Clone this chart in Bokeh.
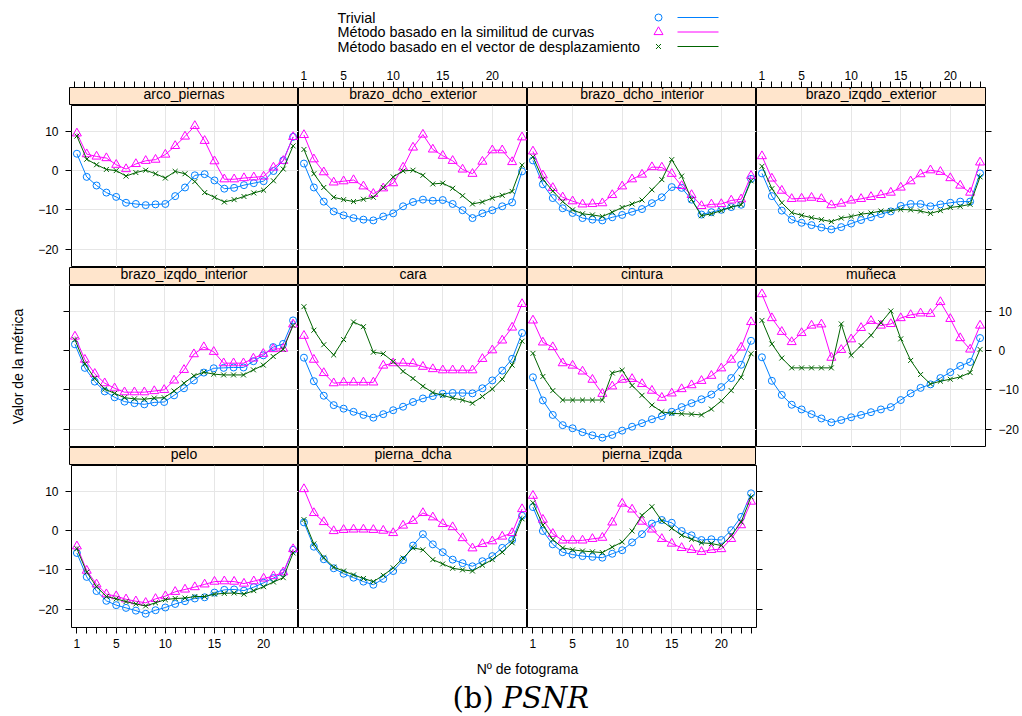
import math
from bokeh.plotting import figure
from bokeh.layouts import row, column
from bokeh.models import Range1d, LinearAxis, FixedTicker
from bokeh.embed import file_html
from bokeh.resources import INLINE
from bokeh.core.properties import value

# ---------------- data ----------------
frames = list(range(1, 24))
methods = ["Trivial",
           "Método basado en la similitud de curvas",
           "Método basado en el vector de desplazamiento"]
x_ticks = frames
x_tick_labels = {1: "1", 5: "5", 10: "10", 15: "15", 20: "20"}
y_ticks = [-20, -10, 0, 10]
y_tick_labels = {-20: "−20", -10: "−10", 0: "0", 10: "10"}

arco_piernas_triv = [4.3, -1.6, -3.8, -5.6, -6.7, -8.2, -8.5, -8.8, -8.6, -8.5, -6.5, -4.3, -1.2, -0.9, -2.5, -4.6, -4.4, -3.7, -3.2, -2.7, -0.1, 2.6, 8.6]
arco_piernas_sim = [9.5, 4.2, 3.6, 3.2, 1.5, 0.4, 1.7, 2.5, 2.8, 4.1, 6.3, 8.7, 11.4, 7.6, 2.4, -2.2, -2.2, -1.9, -1.7, -1.5, 0.8, 2.5, 8.6]
arco_piernas_vec = [8.8, 2.9, 1.5, 0.3, 0.0, -1.4, -0.5, 0.1, -0.8, -1.9, -0.2, -0.8, -2.8, -5.6, -6.8, -8.0, -7.4, -6.6, -5.7, -5.0, -2.6, 0.4, 6.3]

brazo_dcho_exterior_triv = [1.8, -4.3, -7.9, -10.4, -11.4, -12.1, -12.5, -12.7, -11.7, -10.9, -9.1, -8.0, -7.4, -7.7, -7.5, -8.5, -10.1, -12.1, -10.9, -10.1, -9.1, -8.1, -0.2]
brazo_dcho_exterior_sim = [9.1, 2.9, -0.4, -3.0, -2.7, -2.4, -4.0, -5.9, -4.5, -3.2, 0.8, 5.9, 9.2, 5.4, 3.8, 2.5, 0.3, -0.8, 2.3, 5.2, 5.2, 2.2, 8.5]
brazo_dcho_exterior_vec = [5.4, -0.8, -4.3, -6.8, -7.4, -7.9, -7.3, -6.8, -4.3, -1.6, -0.1, 0.1, -1.2, -3.4, -3.2, -4.5, -6.4, -8.5, -8.0, -7.0, -6.3, -5.3, 1.4]

brazo_dcho_interior_triv = [2.6, -3.5, -7.0, -9.6, -10.8, -12.1, -12.5, -12.7, -11.9, -11.3, -10.5, -9.8, -8.3, -6.8, -4.2, -4.4, -7.4, -11.2, -10.6, -10.0, -9.3, -8.7, -2.1]
brazo_dcho_interior_sim = [4.9, -1.2, -4.4, -6.8, -7.8, -8.6, -8.5, -8.3, -6.2, -4.0, -2.2, -1.0, 0.9, 0.8, -0.8, -3.9, -6.2, -9.0, -8.6, -8.5, -7.6, -7.3, -1.3]
brazo_dcho_interior_vec = [3.5, -2.2, -5.2, -7.9, -10.0, -11.0, -11.3, -11.7, -10.6, -9.4, -8.5, -7.5, -4.9, -2.3, 2.8, -1.4, -7.4, -11.5, -11.0, -10.2, -9.3, -8.7, -2.6]

brazo_izqdo_exterior_triv = [-0.7, -6.5, -10.2, -12.5, -13.3, -13.9, -14.5, -15.0, -14.4, -13.5, -12.6, -11.9, -11.1, -10.4, -9.0, -8.5, -8.5, -9.1, -8.6, -8.2, -7.9, -7.9, -0.7]
brazo_izqdo_exterior_sim = [3.7, -2.0, -5.1, -7.2, -7.1, -6.9, -7.2, -8.8, -8.4, -7.6, -7.2, -6.7, -6.2, -5.6, -4.3, -2.7, -0.9, 0.1, -0.3, -1.9, -3.8, -5.6, 2.1]
brazo_izqdo_exterior_vec = [1.1, -4.6, -8.2, -10.7, -11.4, -12.0, -12.5, -13.0, -12.1, -11.7, -11.1, -10.8, -10.3, -10.2, -9.9, -10.0, -10.3, -10.9, -10.2, -9.4, -9.1, -8.6, -1.6]

brazo_izqdo_interior_triv = [1.6, -4.4, -7.9, -10.4, -11.9, -13.0, -13.4, -13.7, -13.2, -13.1, -11.4, -9.6, -7.6, -5.6, -4.5, -4.4, -4.3, -4.3, -2.7, -1.2, 0.9, 1.7, 7.7]
brazo_izqdo_interior_sim = [3.6, -2.3, -5.9, -8.3, -9.6, -10.6, -10.6, -10.6, -10.3, -10.0, -7.6, -4.9, -0.9, 0.9, -0.3, -3.2, -3.2, -3.2, -2.0, -0.8, 0.4, 0.5, 6.7]
brazo_izqdo_interior_vec = [2.8, -3.4, -7.1, -9.8, -10.9, -12.0, -12.3, -12.4, -12.1, -12.0, -10.3, -8.3, -6.4, -5.5, -6.0, -6.2, -6.2, -6.2, -4.9, -3.7, -1.5, 0.3, 6.4]

cara_triv = [-1.8, -7.8, -11.5, -13.9, -14.8, -15.6, -16.4, -17.1, -16.2, -15.2, -14.3, -13.1, -12.2, -11.6, -11.0, -10.8, -10.8, -10.9, -9.6, -7.6, -5.1, -2.1, 4.5]
cara_sim = [3.8, -2.3, -5.7, -8.3, -8.1, -8.1, -8.1, -8.1, -3.8, -3.2, -3.2, -3.3, -4.1, -4.7, -5.0, -5.0, -5.0, -5.0, -2.1, 0.1, 2.6, 5.9, 11.9]
cara_vec = [11.2, 5.2, 1.5, -1.1, 2.8, 7.3, 6.1, -0.4, -0.8, -2.8, -5.3, -7.1, -9.1, -10.7, -11.4, -12.1, -12.6, -13.4, -11.7, -9.8, -7.3, -3.7, 2.4]

cintura_triv = [-6.8, -12.7, -16.4, -19.0, -19.8, -20.8, -21.6, -22.2, -21.5, -20.4, -19.4, -18.5, -17.5, -16.7, -15.6, -14.4, -13.4, -12.4, -11.2, -9.3, -7.0, -3.6, 2.5]
cintura_sim = [7.7, 2.1, 0.9, -3.2, -3.8, -5.3, -7.4, -11.0, -9.1, -7.4, -7.2, -8.5, -10.2, -12.0, -10.9, -9.8, -8.8, -7.7, -6.4, -4.5, -2.3, 0.8, 7.3]
cintura_vec = [-0.7, -6.6, -10.2, -12.6, -12.6, -12.6, -12.6, -12.6, -5.7, -5.0, -8.9, -11.4, -13.9, -15.6, -16.0, -16.1, -16.2, -16.4, -14.9, -12.8, -10.2, -6.8, -0.8]

muneca_triv = [-1.7, -7.7, -11.3, -13.8, -15.0, -16.2, -17.3, -18.3, -17.7, -17.0, -16.4, -15.7, -15.0, -14.4, -12.6, -10.9, -9.5, -8.6, -7.0, -5.5, -3.9, -2.9, 3.2]
muneca_sim = [14.4, 8.3, 4.8, 2.2, 4.5, 6.4, 6.7, -1.8, 0.2, 2.9, 5.8, 7.6, 6.4, 6.8, 8.3, 9.1, 9.5, 9.4, 12.4, 8.1, 3.2, 0.3, 6.4]
muneca_vec = [7.7, 1.7, -1.9, -4.4, -4.4, -4.4, -4.4, -4.4, 6.8, -1.2, 1.3, 3.9, 7.1, 10.1, 3.0, -2.5, -6.1, -8.5, -7.8, -7.3, -6.7, -5.6, 0.3]

pelo_triv = [-5.7, -11.8, -15.4, -17.9, -19.0, -19.7, -20.4, -21.2, -20.3, -19.6, -18.7, -18.0, -17.3, -17.0, -15.8, -15.1, -15.0, -15.3, -14.4, -13.3, -12.1, -10.8, -4.9]
pelo_sim = [-4.0, -10.2, -13.7, -16.2, -16.7, -17.5, -18.0, -18.4, -17.4, -16.7, -15.6, -15.0, -14.4, -13.7, -13.0, -12.9, -13.0, -13.5, -12.9, -12.2, -11.6, -10.6, -4.7]
pelo_vec = [-4.6, -10.6, -14.3, -16.8, -17.4, -18.1, -18.7, -19.2, -18.4, -17.6, -17.3, -17.2, -16.8, -16.8, -16.2, -16.0, -15.9, -16.2, -15.3, -14.3, -13.1, -12.0, -5.7]

pierna_dcha_triv = [2.1, -4.1, -7.3, -9.6, -11.0, -12.0, -13.0, -13.8, -12.3, -10.3, -7.5, -3.8, -0.9, -3.5, -5.5, -7.4, -8.3, -9.1, -7.8, -6.5, -4.4, -2.4, 3.8]
pierna_dcha_sim = [10.6, 4.5, 2.2, -0.1, 0.2, 0.3, 0.3, 0.2, 0.0, -0.6, 1.3, 2.5, 4.5, 3.4, 1.7, 0.9, -1.9, -4.5, -3.4, -2.7, -1.5, -0.6, 5.5]
pierna_dcha_vec = [2.8, -3.4, -6.9, -9.3, -10.3, -11.3, -12.2, -13.0, -11.4, -9.5, -7.0, -4.4, -4.9, -7.4, -8.5, -9.6, -10.0, -10.3, -8.8, -7.4, -5.5, -3.1, 3.0]

pierna_izqda_triv = [6.0, -0.1, -3.5, -5.5, -6.1, -6.5, -6.7, -6.9, -5.9, -5.0, -3.0, -0.9, 1.8, 2.7, 2.0, -0.1, -1.2, -2.4, -2.2, -2.4, 0.1, 3.5, 9.5]
pierna_izqda_sim = [8.9, 2.8, -0.8, -2.5, -2.5, -2.5, -2.1, -1.8, 2.1, 6.9, 5.4, 2.3, 0.3, -2.1, -3.3, -4.4, -4.9, -5.4, -4.9, -4.7, -2.1, 1.4, 7.4]
pierna_izqda_vec = [7.1, 1.4, -2.3, -4.4, -4.9, -5.2, -5.4, -5.6, -4.2, -2.9, -0.1, 3.9, 6.1, 2.5, 0.6, -1.2, -2.2, -3.1, -3.3, -3.8, -1.3, 2.2, 8.6]

panel_rows = [
    ["arco_piernas", "brazo_dcho_exterior", "brazo_dcho_interior", "brazo_izqdo_exterior"],
    ["brazo_izqdo_interior", "cara", "cintura", "muñeca"],
    ["pelo", "pierna_dcha", "pierna_izqda"],
]
series = {
    "arco_piernas": (arco_piernas_triv, arco_piernas_sim, arco_piernas_vec),
    "brazo_dcho_exterior": (brazo_dcho_exterior_triv, brazo_dcho_exterior_sim, brazo_dcho_exterior_vec),
    "brazo_dcho_interior": (brazo_dcho_interior_triv, brazo_dcho_interior_sim, brazo_dcho_interior_vec),
    "brazo_izqdo_exterior": (brazo_izqdo_exterior_triv, brazo_izqdo_exterior_sim, brazo_izqdo_exterior_vec),
    "brazo_izqdo_interior": (brazo_izqdo_interior_triv, brazo_izqdo_interior_sim, brazo_izqdo_interior_vec),
    "cara": (cara_triv, cara_sim, cara_vec),
    "cintura": (cintura_triv, cintura_sim, cintura_vec),
    "muñeca": (muneca_triv, muneca_sim, muneca_vec),
    "pelo": (pelo_triv, pelo_sim, pelo_vec),
    "pierna_dcha": (pierna_dcha_triv, pierna_dcha_sim, pierna_dcha_vec),
    "pierna_izqda": (pierna_izqda_triv, pierna_izqda_sim, pierna_izqda_vec),
}

# ---------------- style ----------------
FONT = "Liberation Sans"
COLORS = ["#0080ff", "#ff00ff", "#006400"]
MARKERS = ["circle", "triangle", "x"]
SIZES = [7, 9, 7]
XR = (0.45, 23.55)
YR = (-24.7, 16.6)
PANEL_W = 229
PANEL_H = 162
STRIP_H = 18
LEFT_B = 34
RIGHT_B = 37
TOP_AX = 25
BOT_AX = 25


def make_fig(w, h, xr, yr, left=0, right=0, top=0, bottom=0):
    p = figure(width=w, height=h, x_range=xr, y_range=yr,
               output_backend="svg", toolbar_location=None,
               x_axis_location=None, y_axis_location=None,
               min_border_left=left, min_border_right=right,
               min_border_top=top, min_border_bottom=bottom)
    p.background_fill_color = "white"
    p.border_fill_color = "white"
    p.outline_line_color = "black"
    p.outline_line_width = 1
    return p


def style_axis(ax, standoff):
    ax.axis_line_color = None
    ax.major_tick_line_color = "black"
    ax.major_tick_out = 6
    ax.major_tick_in = 0
    ax.minor_tick_out = 0
    ax.minor_tick_in = 0
    ax.major_label_text_font = FONT
    ax.major_label_text_font_size = "12px"
    ax.major_label_text_color = "black"
    ax.major_label_standoff = standoff


def add_x_axis(p, loc, labels, standoff):
    ax = LinearAxis(ticker=FixedTicker(ticks=x_ticks))
    ax.major_label_overrides = {t: (x_tick_labels.get(t, "") if labels else "") for t in x_ticks}
    style_axis(ax, standoff)
    p.add_layout(ax, loc)


def add_y_axis(p, loc, labels, standoff):
    ax = LinearAxis(ticker=FixedTicker(ticks=y_ticks))
    ax.major_label_overrides = {t: (y_tick_labels[t] if labels else "") for t in y_ticks}
    style_axis(ax, standoff)
    p.add_layout(ax, loc)


def strip_fig(name, col, ncols, top_axis=None):
    left = LEFT_B if col == 0 else 0
    right = RIGHT_B if col == 3 else 0
    top = TOP_AX if top_axis is not None else 0
    p = make_fig(PANEL_W + left + right, STRIP_H + top,
                 Range1d(*XR), Range1d(0, 1), left=left, right=right, top=top)
    p.grid.visible = False
    p.background_fill_color = "#ffe5cc"
    p.text(x=[sum(XR) / 2], y=[0.62], text=[name], text_align="center",
           text_baseline="middle", text_font=value(FONT),
           text_font_size="14px", text_color="black")
    if top_axis is not None:
        add_x_axis(p, "above", top_axis, 2)
    return p


def panel_fig(name, r, col, ncols):
    last = col == ncols - 1
    left = LEFT_B if col == 0 else 0
    if col == 3:
        right = RIGHT_B
    elif last:
        right = 7
    else:
        right = 0
    bottom = BOT_AX if r == 2 else 0
    p = make_fig(PANEL_W + left + right, PANEL_H + bottom,
                 Range1d(*XR), Range1d(*YR), left=left, right=right, bottom=bottom)
    p.xgrid.ticker = FixedTicker(ticks=[5, 10, 15, 20])
    p.ygrid.ticker = FixedTicker(ticks=y_ticks)
    p.grid.grid_line_color = "#e6e6e6"
    p.grid.grid_line_width = 1
    for vals, c, m, s in zip(series[name], COLORS, MARKERS, SIZES):
        p.line(frames, vals, line_color=c, line_width=1)
        p.scatter(frames, vals, marker=m, size=s, line_color=c,
                  fill_color=None, line_width=1)
    if col == 0:
        add_y_axis(p, "left", r in (0, 2), 7)
    if last:
        add_y_axis(p, "right", r == 1, 7)
    if r == 2:
        add_x_axis(p, "below", col in (0, 2), 5)
    return p


rows = []
for r, names in enumerate(panel_rows):
    n = len(names)
    strips = []
    for c, nm in enumerate(names):
        ta = (c in (1, 3)) if r == 0 else None
        strips.append(strip_fig(nm, c, n, ta))
    rows.append(row(*strips))
    rows.append(row(*[panel_fig(nm, r, c, n) for c, nm in enumerate(names)]))
grid = column(*rows)

GRID_H = (TOP_AX + STRIP_H + PANEL_H) + (STRIP_H + PANEL_H) + (STRIP_H + PANEL_H + BOT_AX)
TOP_Y = 62

# y label column
ylab = make_fig(35, GRID_H, Range1d(0, 35), Range1d(TOP_Y + GRID_H, TOP_Y))
ylab.outline_line_color = None
ylab.grid.visible = False
ylab.text(x=[17], y=[366], text=["Valor de la métrica"], angle=math.pi / 2,
          text_align="center", text_baseline="middle", text_font=value(FONT),
          text_font_size="14px", text_color="black")

# header (legend)
header = make_fig(1022, TOP_Y, Range1d(0, 1022), Range1d(TOP_Y, 0))
header.outline_line_color = None
header.grid.visible = False
leg_y = [17, 31.5, 46]
header.text(x=[337] * 3, y=leg_y, text=methods, text_align="left",
            text_baseline="middle", text_font=value(FONT),
            text_font_size="14.4px", text_color="black")
for yy, c, m, s in zip(leg_y, COLORS, MARKERS, SIZES):
    header.scatter([658], [yy], marker=m, size=s, line_color=c, fill_color=None, line_width=1)
    header.segment(x0=[677], y0=[yy], x1=[718], y1=[yy], line_color=c, line_width=1)

# footer
FOOT_TOP = TOP_Y + GRID_H
footer = make_fig(1022, 716 - FOOT_TOP, Range1d(0, 1022), Range1d(716, FOOT_TOP))
footer.outline_line_color = None
footer.grid.visible = False
footer.text(x=[527], y=[668.5], text=["Nº de fotograma"], text_align="center",
            text_baseline="middle", text_font=value(FONT), text_font_size="14px",
            text_color="black")
footer.text(x=[452], y=[697], text=["(b)"], text_align="left",
            text_baseline="middle", text_font=value("DejaVu Serif"),
            text_font_size="29px", text_color="black")
footer.text(x=[502], y=[697], text=["PSNR"], text_align="left",
            text_baseline="middle", text_font=value("DejaVu Serif"),
            text_font_style="italic", text_font_size="29px", text_color="black")

layout = column(header, row(ylab, grid), footer)

with open("out.html", "w") as f:
    f.write(file_html(layout, INLINE))
